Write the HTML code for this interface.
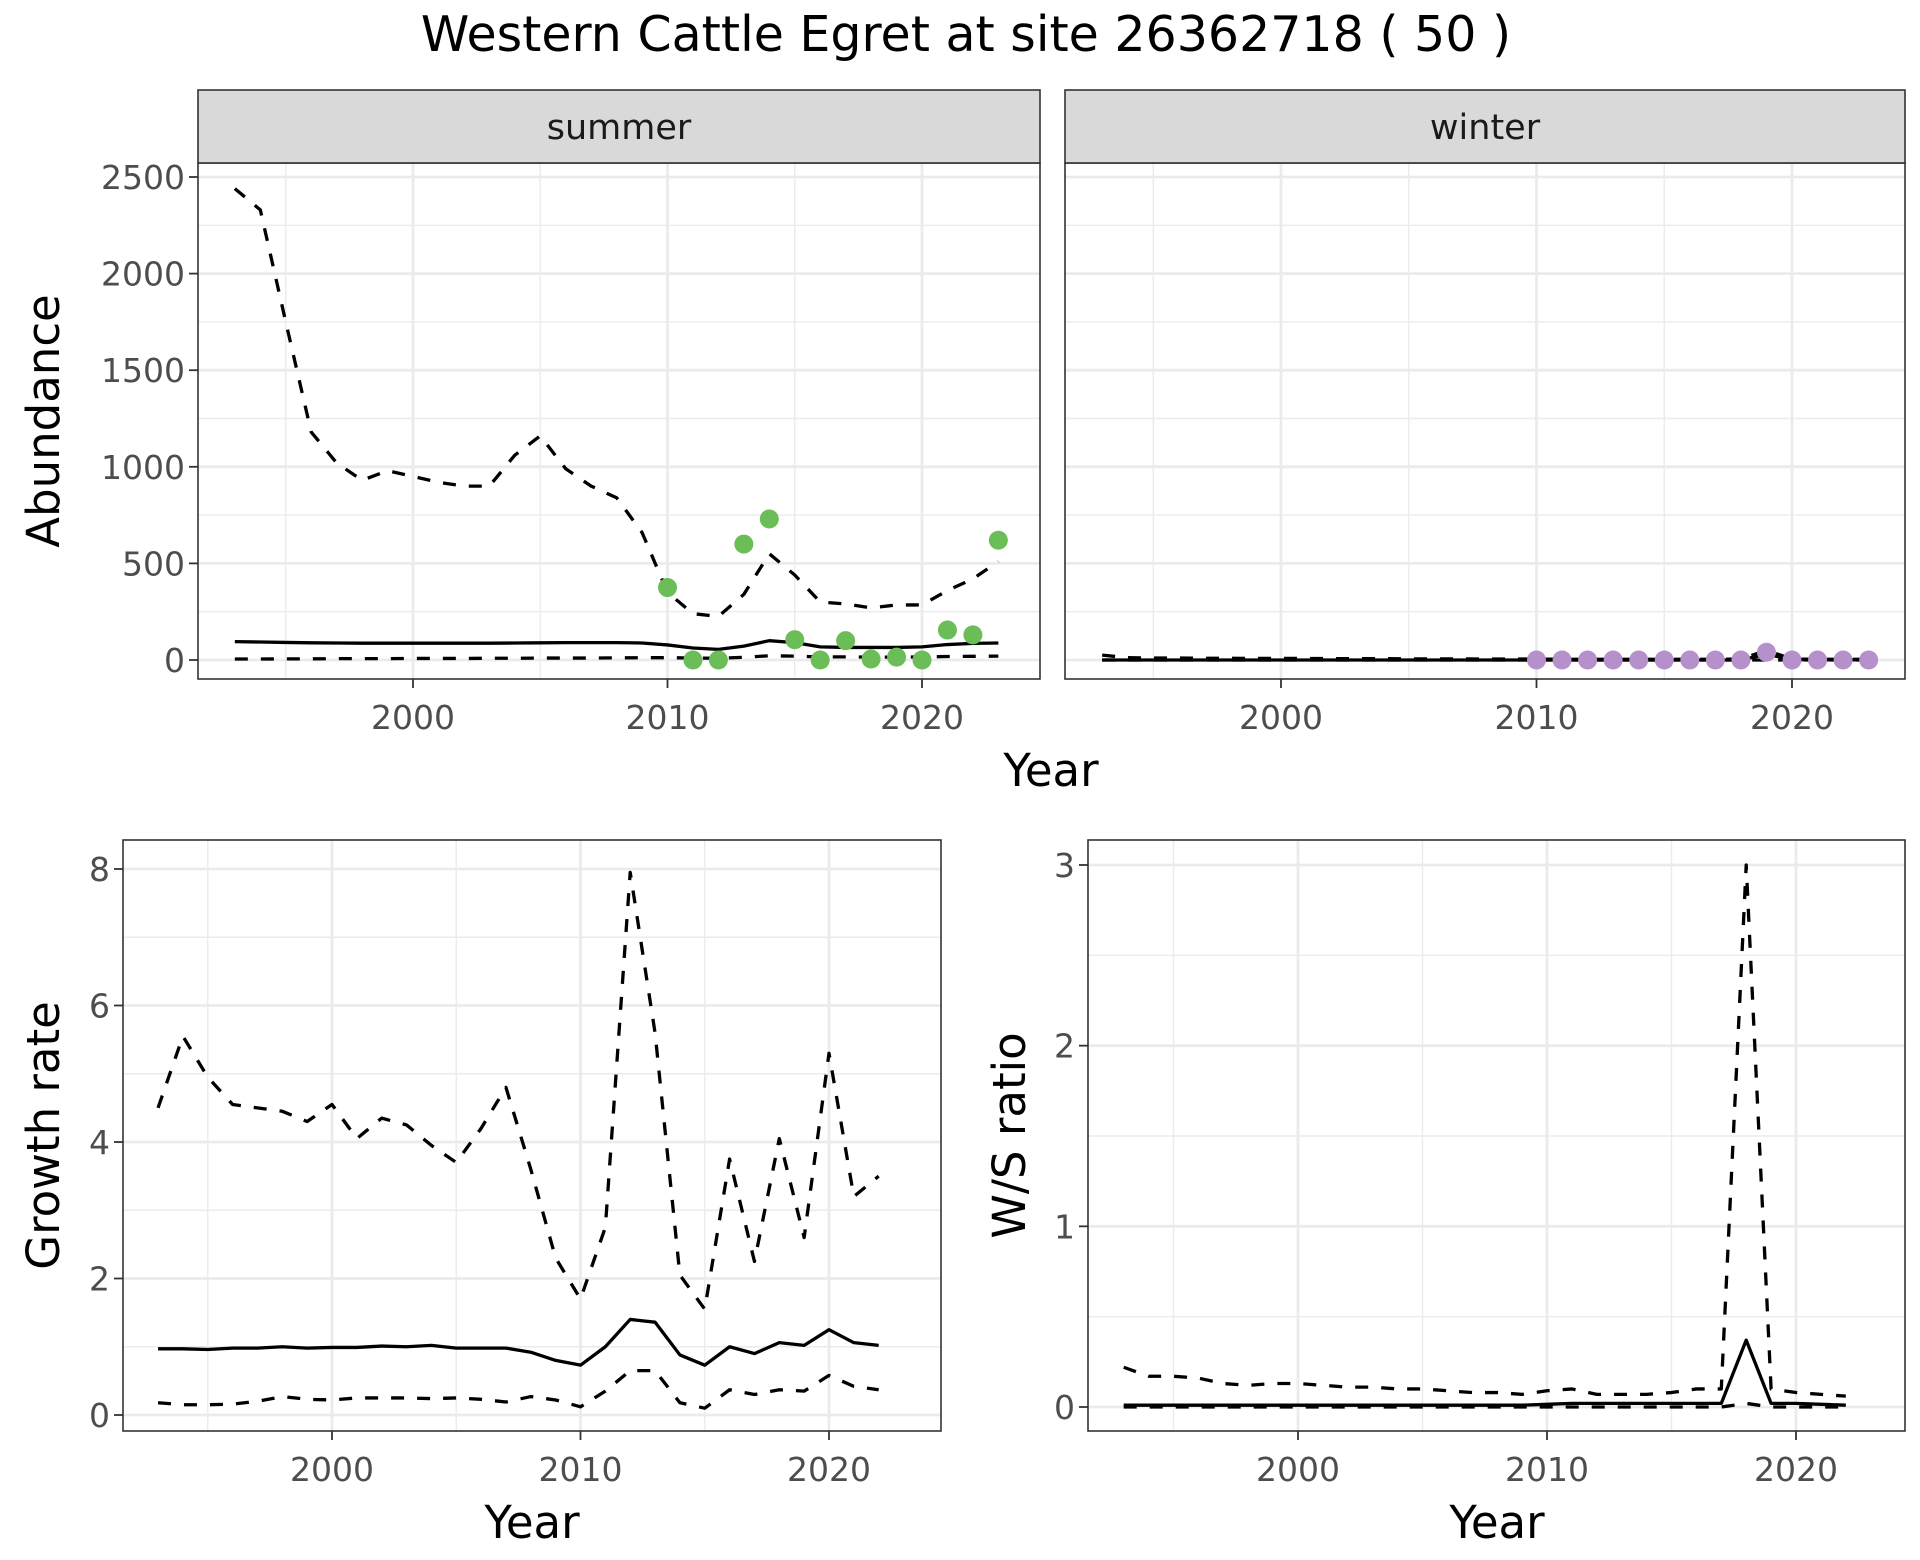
<!DOCTYPE html>
<html><head><meta charset="utf-8"><style>
html,body{margin:0;padding:0;background:#fff;}
svg{display:block;font-family:"DejaVu Sans","Liberation Sans",sans-serif;}
</style></head><body>
<svg id="chart" width="1920" height="1560" viewBox="0 0 1920 1560" xmlns="http://www.w3.org/2000/svg">
<text x="966" y="51" font-size="49" text-anchor="middle" fill="#000">Western Cattle Egret at site 26362718 ( 50 )</text>
</svg>
<script>
const yearsA = [1993,1994,1995,1996,1997,1998,1999,2000,2001,2002,2003,2004,2005,2006,2007,2008,2009,2010,2011,2012,2013,2014,2015,2016,2017,2018,2019,2020,2021,2022,2023];
const summerMid = [95,93,91,89,88,87,87,87,87,87,87,88,89,90,90,90,88,78,62,55,72,100,90,68,65,65,65,68,80,86,88];
const summerHi = [2440,2330,1750,1180,1020,930,980,950,920,900,900,1060,1160,990,900,840,660,350,240,225,340,550,440,300,290,270,285,285,360,420,510];
const summerLo = [5,5,6,6,7,7,7,8,8,8,9,9,10,10,10,11,12,12,10,9,14,22,20,16,16,15,15,16,18,19,20];
const summerObsYears = [2010,2011,2012,2013,2014,2015,2016,2017,2018,2019,2020,2021,2022,2023];
const summerObs = [375,0,0,600,730,105,0,100,5,15,0,155,130,620];
const winterMid = [0,0,0,0,0,0,0,0,0,0,0,0,0,0,0,0,0,0,0,0,0,0,0,0,0,0,30,2,1,1,1];
const winterHi = [25,12,10,10,9,9,8,8,8,7,7,7,6,6,6,5,5,5,4,4,4,4,4,4,4,5,50,5,4,4,4];
const winterLo = [0,0,0,0,0,0,0,0,0,0,0,0,0,0,0,0,0,0,0,0,0,0,0,0,0,0,0,0,0,0,0];
const winterObsYears = [2010,2011,2012,2013,2014,2015,2016,2017,2018,2019,2020,2021,2022,2023];
const winterObs = [0,0,0,0,0,0,0,0,0,40,0,0,0,0];
const yearsB = [1993,1994,1995,1996,1997,1998,1999,2000,2001,2002,2003,2004,2005,2006,2007,2008,2009,2010,2011,2012,2013,2014,2015,2016,2017,2018,2019,2020,2021,2022];
const growthHi = [4.5,5.55,4.95,4.55,4.5,4.45,4.3,4.55,4.05,4.35,4.25,3.95,3.7,4.2,4.8,3.6,2.3,1.7,2.75,7.95,5.6,2.05,1.55,3.75,2.25,4.05,2.6,5.3,3.2,3.5];
const growthMid = [0.97,0.97,0.96,0.98,0.98,1.0,0.98,0.99,0.99,1.01,1.0,1.02,0.98,0.98,0.98,0.92,0.8,0.73,1.0,1.4,1.36,0.88,0.73,1.0,0.9,1.06,1.02,1.25,1.06,1.02];
const growthLo = [0.18,0.15,0.15,0.16,0.2,0.27,0.23,0.22,0.25,0.25,0.25,0.24,0.25,0.23,0.19,0.27,0.22,0.12,0.35,0.65,0.65,0.18,0.1,0.37,0.3,0.37,0.35,0.58,0.42,0.37];
const ratioHi = [0.22,0.17,0.17,0.16,0.13,0.12,0.13,0.13,0.12,0.11,0.11,0.1,0.1,0.09,0.08,0.08,0.07,0.09,0.1,0.07,0.07,0.07,0.08,0.1,0.1,3.0,0.1,0.08,0.07,0.06];
const ratioMid = [0.01,0.01,0.01,0.01,0.01,0.01,0.01,0.01,0.01,0.01,0.01,0.01,0.01,0.01,0.01,0.01,0.01,0.015,0.02,0.02,0.02,0.02,0.02,0.02,0.02,0.37,0.02,0.02,0.015,0.01];
const ratioLo = [0,0,0,0,0,0,0,0,0,0,0,0,0,0,0,0,0,0,0,0,0,0,0,0,0,0.02,0,0,0,0];
const xTicks = [2000,2010,2020];
const abundTicks = [0,500,1000,1500,2000,2500];
const growthTicks = [0,2,4,6,8];
const ratioTicks = [0,1,2,3];

const NS='http://www.w3.org/2000/svg';
const svg=document.getElementById('chart');
function mk(tag,attrs,parent){const e=document.createElementNS(NS,tag);for(const k in attrs)e.setAttribute(k,attrs[k]);(parent||svg).appendChild(e);return e;}

function panel(o){
  const g=mk('g',{});
  
  
  const sx=v=>o.x0+(v-o.xv0)*o.xs;
  const sy=v=>o.y0-(v-o.yv0)*o.ys;
  mk('rect',{x:o.L,y:o.T,width:o.R-o.L,height:o.B-o.T,fill:'#fff'},g);
  for(let i=0;i<o.yt.length-1;i++){const v=(o.yt[i]+o.yt[i+1])/2;const y=sy(v);if(y>o.T&&y<o.B)mk('line',{x1:o.L,x2:o.R,y1:y,y2:y,stroke:'#EBEBEB','stroke-width':1.4},g);}
  const extraMinor=o.yt[o.yt.length-1]+(o.yt[1]-o.yt[0])/2;
  if(sy(extraMinor)>o.T)mk('line',{x1:o.L,x2:o.R,y1:sy(extraMinor),y2:sy(extraMinor),stroke:'#EBEBEB','stroke-width':1.4},g);
  [1995,2005,2015].forEach(v=>{const x=sx(v);mk('line',{x1:x,x2:x,y1:o.T,y2:o.B,stroke:'#EBEBEB','stroke-width':1.4},g);});
  o.yt.forEach(v=>{const y=sy(v);mk('line',{x1:o.L,x2:o.R,y1:y,y2:y,stroke:'#EBEBEB','stroke-width':2.8},g);});
  xTicks.forEach(v=>{const x=sx(v);mk('line',{x1:x,x2:x,y1:o.T,y2:o.B,stroke:'#EBEBEB','stroke-width':2.8},g);});
  const line=(xs,ys,dash,name)=>{
    const p=mk('polyline',{points:xs.map((x,i)=>sx(x)+','+sy(ys[i])).join(' '),fill:'none',stroke:'#000','stroke-width':3.3,'stroke-linejoin':'round','stroke-dasharray':dash?'13 13':'none'},g);
    
    
  };
  line(o.xs_,o.hi,true,'upper-ci-line');
  line(o.xs_,o.lo,true,'lower-ci-line');
  line(o.xs_,o.mid,false,'estimate-line');
  if(o.ox){o.ox.forEach((x,i)=>{const c=mk('circle',{cx:sx(x),cy:sy(o.oy[i]),r:9.5,fill:o.col},g);
    
    });}
  mk('rect',{x:o.L,y:o.T,width:o.R-o.L,height:o.B-o.T,fill:'none',stroke:'#333','stroke-width':1.6},g);
  if(o.strip){const s=mk('rect',{x:o.L,y:90,width:o.R-o.L,height:o.T-90,fill:'#D9D9D9',stroke:'#333','stroke-width':1.6},g);
    
    
    const t=mk('text',{x:(o.L+o.R)/2,y:139,'font-size':35,'text-anchor':'middle',fill:'#1A1A1A'},g);t.textContent=o.strip;
    
    }
  xTicks.forEach(v=>{const x=sx(v);mk('line',{x1:x,x2:x,y1:o.B,y2:o.B+9,stroke:'#333','stroke-width':1.8},g);
    const t=mk('text',{x:x,y:o.B+50,'font-size':33,'text-anchor':'middle',fill:'#4D4D4D'},g);t.textContent=v;
    
    });
  if(o.showY){o.yt.forEach(v=>{const y=sy(v);mk('line',{x1:o.L-9,x2:o.L,y1:y,y2:y,stroke:'#333','stroke-width':1.8},g);
    const t=mk('text',{x:o.L-13,y:y+12,'font-size':33,'text-anchor':'end',fill:'#4D4D4D'},g);t.textContent=v;
    
    });}
  if(o.ytitle){const t=mk('text',{x:0,y:0,'font-size':45,'text-anchor':'middle',fill:'#000',transform:`translate(${o.ytx},${(o.T+o.B)/2}) rotate(-90)`},g);t.textContent=o.ytitle;
    
    }
  if(o.xtitle){const t=mk('text',{x:o.xtx,y:o.xty,'font-size':45,'text-anchor':'middle',fill:'#000'},g);t.textContent='Year';
    
    }
}
panel({name:'summer-panel',L:198,R:1040,T:163,B:679,xv0:2000,x0:413,xs:25.45,yv0:0,y0:660,ys:(660-177)/2500,yt:abundTicks,ymaxVal:2500,yminVal:0,
  xs_:yearsA,hi:summerHi,mid:summerMid,lo:summerLo,ox:summerObsYears,oy:summerObs,col:'#6BBD58',strip:'summer',showY:true,ytitle:'Abundance',ytx:59});
panel({name:'winter-panel',L:1065,R:1905,T:163,B:679,xv0:2000,x0:1281,xs:25.55,yv0:0,y0:660,ys:(660-177)/2500,yt:abundTicks,ymaxVal:2500,yminVal:0,
  xs_:yearsA,hi:winterHi,mid:winterMid,lo:winterLo,ox:winterObsYears,oy:winterObs,col:'#B590CA',strip:'winter',showY:false});
const ty=mk('text',{x:1051,y:786,'font-size':45,'text-anchor':'middle',fill:'#000'});ty.textContent='Year';


panel({name:'growth-panel',L:123,R:941,T:840,B:1431,xv0:2000,x0:332,xs:24.85,yv0:0,y0:1415,ys:(1415-869)/8,yt:growthTicks,ymaxVal:8,yminVal:0,
  xs_:yearsB,hi:growthHi,mid:growthMid,lo:growthLo,showY:true,ytitle:'Growth rate',ytx:59,xtitle:true,xtx:532,xty:1538});
panel({name:'ratio-panel',L:1088,R:1905,T:840,B:1431,xv0:2000,x0:1298,xs:24.9,yv0:0,y0:1407,ys:(1407-865)/3,yt:ratioTicks,ymaxVal:3,yminVal:0,
  xs_:yearsB,hi:ratioHi,mid:ratioMid,lo:ratioLo,showY:true,ytitle:'W/S ratio',ytx:1025,xtitle:true,xtx:1497,xty:1538});
</script>
</body></html>
